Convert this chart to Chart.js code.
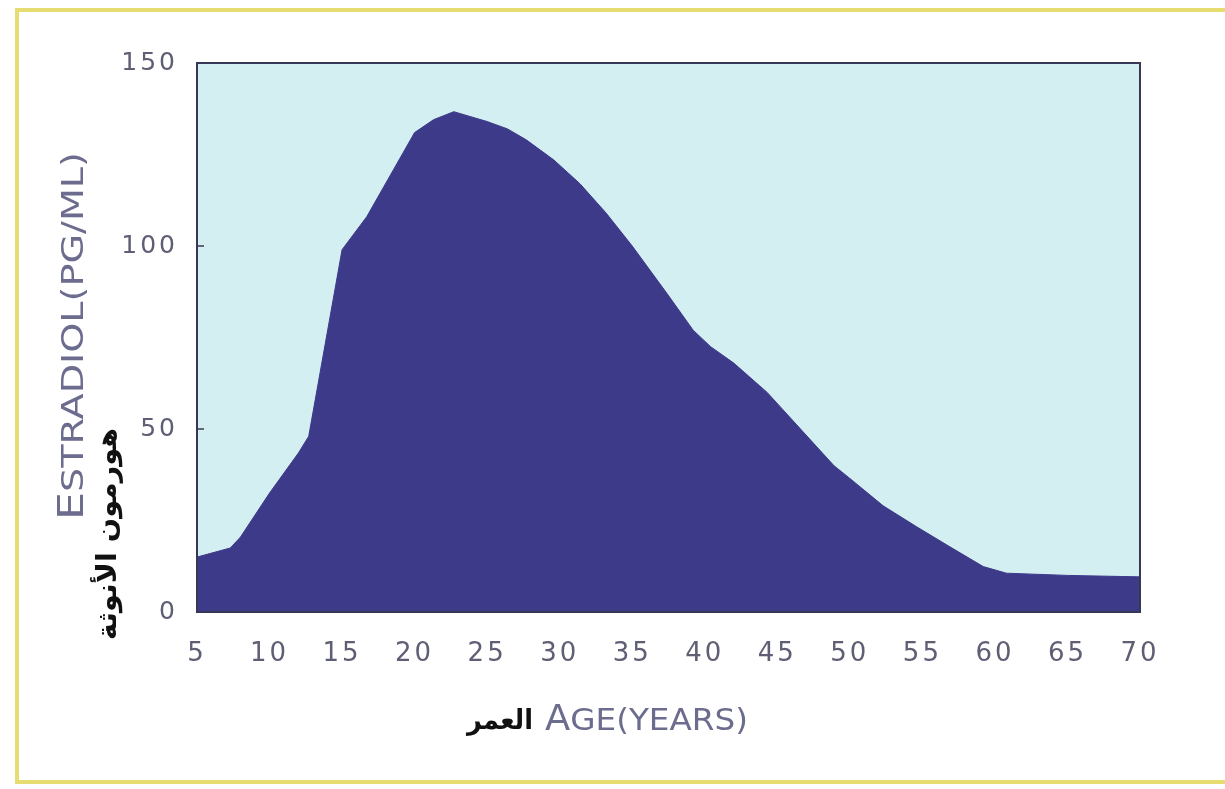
<!DOCTYPE html>
<html>
<head>
<meta charset="utf-8">
<script src="https://cdn.jsdelivr.net/npm/chart.js@4.4.1/dist/chart.umd.min.js"></script>
<style>
  html, body { margin: 0; padding: 0; background: #fff; }
  #wrap { position: relative; width: 1225px; height: 789px; overflow: hidden; }
  #frame { position: absolute; left: 15px; top: 8px; width: 1240px; height: 768px; border: 4px solid #e6dc72; pointer-events: none; }
</style>
</head>
<body>
<div id="wrap">
  <canvas id="chart" width="1225" height="789"></canvas>
  <div id="frame"></div>
</div>
<script>
// Estradiol level by age
const ages = [5, 7.3, 8, 10, 12, 12.7, 15, 16.7, 20, 21.3, 22.7, 25, 26.4, 27.7, 29.6, 31.4, 33.2, 35, 37.4, 39.2, 40.4, 42, 44.3, 46.6, 48.9, 50, 52.3, 54.6, 56.9, 59.2, 60.8, 65, 70]
const estradiol = [15, 17.5, 20.5, 32.5, 43.5, 48, 99, 108, 131, 134.5, 136.7, 134, 132, 129, 123.5, 117, 109, 100, 87, 77, 72.5, 68, 60, 50, 40, 36.5, 29, 23.3, 17.8, 12.4, 10.6, 10, 9.6]

const xTicks = [5, 10, 15, 20, 25, 30, 35, 40, 45, 50, 55, 60, 65, 70]
const yTicks = [0, 50, 100, 150]

const xTitleAr = 'العمر'
const yTitleAr = 'هورمون الأنوثة'

const fillColor = '#3d3a8a'
const plotBg = '#d4eff1'
const tickColor = '#5e5e74'
const titleColor = '#6c6c8e'

// draw a run of text pieces squeezed/stretched to a given width
function drawStretched(ctx, parts, width) {
  let natural = 0
  parts.forEach(p => {
    ctx.font = p.font
    p.w = ctx.measureText(p.text).width
    natural += p.w
  })
  const k = width / natural
  ctx.scale(k, 1)
  let x = 0
  parts.forEach(p => {
    ctx.font = p.font
    ctx.fillStyle = p.color
    ctx.fillText(p.text, x, 0)
    x += p.w
  })
}

const plotFrame = {
  id: 'plotFrame',
  beforeLayout(chart) {
    chart.ctx.letterSpacing = '3px'
  },
  beforeDraw(chart) {
    const { ctx, chartArea: a } = chart
    ctx.save()
    ctx.fillStyle = plotBg
    ctx.fillRect(a.left, a.top, a.width, a.height)
    ctx.restore()
    ctx.letterSpacing = '3px'
  },
  afterDatasetsDraw(chart) {
    const { ctx, chartArea: a } = chart
    const y = chart.scales.y
    ctx.save()
    ctx.strokeStyle = '#363856'
    ctx.lineWidth = 2
    ctx.strokeRect(a.left, a.top, a.width, a.height)
    ctx.lineWidth = 1.5
    yTicks.slice(1, -1).forEach(v => {
      const py = y.getPixelForValue(v)
      ctx.beginPath()
      ctx.moveTo(a.left, py)
      ctx.lineTo(a.left + 7, py)
      ctx.stroke()
    })
    ctx.restore()
  },
  afterDraw(chart) {
    const { ctx } = chart
    ctx.save()
    ctx.letterSpacing = '0px'
    ctx.textBaseline = 'alphabetic'
    ctx.textAlign = 'left'

    // x title: Arabic then English
    ctx.save()
    ctx.translate(467, 729)
    drawStretched(ctx, [{ text: xTitleAr, font: 'bold 28px "DejaVu Sans"', color: '#111' }], 66)
    ctx.restore()
    ctx.save()
    ctx.translate(545, 730)
    drawStretched(ctx, [
      { text: 'A', font: '35px "DejaVu Sans"', color: titleColor },
      { text: 'GE(YEARS)', font: '31px "DejaVu Sans"', color: titleColor }
    ], 203)
    ctx.restore()

    // y title, rotated
    ctx.save()
    ctx.translate(83, 520)
    ctx.rotate(-Math.PI / 2)
    drawStretched(ctx, [
      { text: 'E', font: '36px "DejaVu Sans"', color: titleColor },
      { text: 'STRADIOL(PG/ML)', font: '31px "DejaVu Sans"', color: titleColor }
    ], 368)
    ctx.restore()
    ctx.save()
    ctx.translate(116, 640)
    ctx.rotate(-Math.PI / 2)
    drawStretched(ctx, [{ text: yTitleAr, font: 'bold 27px "DejaVu Sans"', color: '#111' }], 212)
    ctx.restore()

    ctx.restore()
  }
}

new Chart(document.getElementById('chart'), {
  type: 'line',
  data: {
    datasets: [{
      label: 'Estradiol',
      data: ages.map((a, i) => ({ x: a, y: estradiol[i] })),
      borderColor: fillColor,
      backgroundColor: fillColor,
      borderWidth: 1,
      fill: 'origin',
      tension: 0,
      pointRadius: 0
    }]
  },
  options: {
    responsive: false,
    animation: false,
    layout: {
      padding: { left: 0, right: 85, top: 63, bottom: 97 }
    },
    plugins: {
      legend: { display: false },
      tooltip: { enabled: false }
    },
    scales: {
      x: {
        type: 'linear',
        min: 5,
        max: 70,
        afterBuildTicks: (s) => { s.ticks = xTicks.map(v => ({ value: v })) },
        afterFit: (s) => { s.height = 80 },
        grid: { display: false, drawTicks: false },
        border: { display: false },
        ticks: {
          color: tickColor,
          font: { family: 'DejaVu Sans', size: 26 },
          padding: 27,
          maxRotation: 0,
          autoSkip: false
        }
      },
      y: {
        min: 0,
        max: 150,
        afterBuildTicks: (s) => { s.ticks = yTicks.map(v => ({ value: v })) },
        afterFit: (s) => { s.width = 197 },
        grid: { display: false, drawTicks: false },
        border: { display: false },
        ticks: {
          color: tickColor,
          font: { family: 'DejaVu Sans', size: 25 },
          padding: 19
        }
      }
    }
  },
  plugins: [plotFrame]
})
</script>
</body>
</html>
